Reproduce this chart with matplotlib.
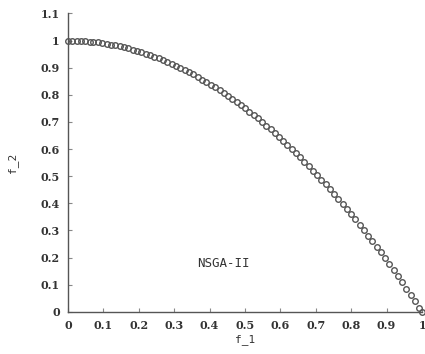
import matplotlib
matplotlib.use("Agg")
import matplotlib.pyplot as plt

f1 = [0.000, 0.012, 0.025, 0.036, 0.048, 0.061, 0.072, 0.085, 0.097, 0.110,
      0.122, 0.134, 0.146, 0.158, 0.170, 0.183, 0.195, 0.207, 0.219, 0.232,
      0.244, 0.256, 0.268, 0.281, 0.293, 0.305, 0.317, 0.330, 0.342, 0.354,
      0.366, 0.379, 0.391, 0.403, 0.415, 0.428, 0.440, 0.452, 0.464, 0.476,
      0.488, 0.500, 0.512, 0.524, 0.536, 0.548, 0.560, 0.572, 0.584, 0.596,
      0.608, 0.620, 0.632, 0.644, 0.656, 0.668, 0.680, 0.692, 0.704, 0.716,
      0.728, 0.740, 0.752, 0.764, 0.776, 0.788, 0.800, 0.812, 0.824, 0.836,
      0.848, 0.860, 0.872, 0.884, 0.896, 0.908, 0.920, 0.932, 0.944, 0.956,
      0.968, 0.980, 0.992, 1.000]
f2 = [1.000, 1.000, 0.999, 0.999, 0.998, 0.996, 0.995, 0.993, 0.991, 0.988,
      0.985, 0.982, 0.979, 0.975, 0.971, 0.967, 0.962, 0.957, 0.952, 0.946,
      0.940, 0.934, 0.928, 0.921, 0.914, 0.907, 0.900, 0.891, 0.883, 0.875,
      0.866, 0.856, 0.847, 0.838, 0.828, 0.817, 0.806, 0.796, 0.785, 0.773,
      0.762, 0.750, 0.738, 0.725, 0.713, 0.700, 0.686, 0.673, 0.659, 0.645,
      0.630, 0.616, 0.601, 0.585, 0.570, 0.554, 0.538, 0.521, 0.504, 0.487,
      0.470, 0.452, 0.434, 0.416, 0.398, 0.379, 0.360, 0.341, 0.321, 0.301,
      0.281, 0.260, 0.240, 0.219, 0.197, 0.176, 0.154, 0.131, 0.109, 0.086,
      0.063, 0.040, 0.016, 0.000]

xticks = [0, 0.1, 0.2, 0.3, 0.4, 0.5, 0.6, 0.7, 0.8, 0.9, 1]
xticklabels = ["0", "0.1", "0.2", "0.3", "0.4", "0.5", "0.6", "0.7", "0.8", "0.9", "1"]
yticks = [0, 0.1, 0.2, 0.3, 0.4, 0.5, 0.6, 0.7, 0.8, 0.9, 1, 1.1]
yticklabels = ["0", "0.1", "0.2", "0.3", "0.4", "0.5", "0.6", "0.7", "0.8", "0.9", "1", "1.1"]

fig = plt.figure(figsize=(4.25, 3.54), dpi=100)
ax = fig.add_axes([0.16, 0.119, 0.833, 0.843])
ax.plot(f1, f2, linestyle="none", marker="o", markersize=4.0,
        markerfacecolor="none", markeredgecolor="#555555", markeredgewidth=1.0,
        clip_on=False)
ax.set_xlim(0, 1)
ax.set_ylim(0, 1.1)
ax.spines["top"].set_visible(False)
ax.spines["right"].set_visible(False)
for s in ("left", "bottom"):
    ax.spines[s].set_color("#555555")
    ax.spines[s].set_linewidth(1.0)
ax.set_xticks(xticks)
ax.set_xticklabels(xticklabels)
ax.set_yticks(yticks)
ax.set_yticklabels(yticklabels)
ax.tick_params(direction="in", length=3, width=0.8, color="#888888",
               labelsize=8, labelcolor="#333333", pad=6)
for lab in ax.get_xticklabels() + ax.get_yticklabels():
    lab.set_family("DejaVu Serif")
    lab.set_fontweight("bold")
ax.set_xlabel("f_1", family="DejaVu Sans Mono", fontsize=8, color="#333333", labelpad=2)
ax.set_ylabel("f_2", family="DejaVu Sans Mono", fontsize=8, color="#333333", labelpad=16)
ax.text(0.44, 0.18, "NSGA-II", family="DejaVu Sans Mono", fontsize=9,
        color="#333333", ha="center", va="center")
fig.savefig("out.png", dpi=100)
